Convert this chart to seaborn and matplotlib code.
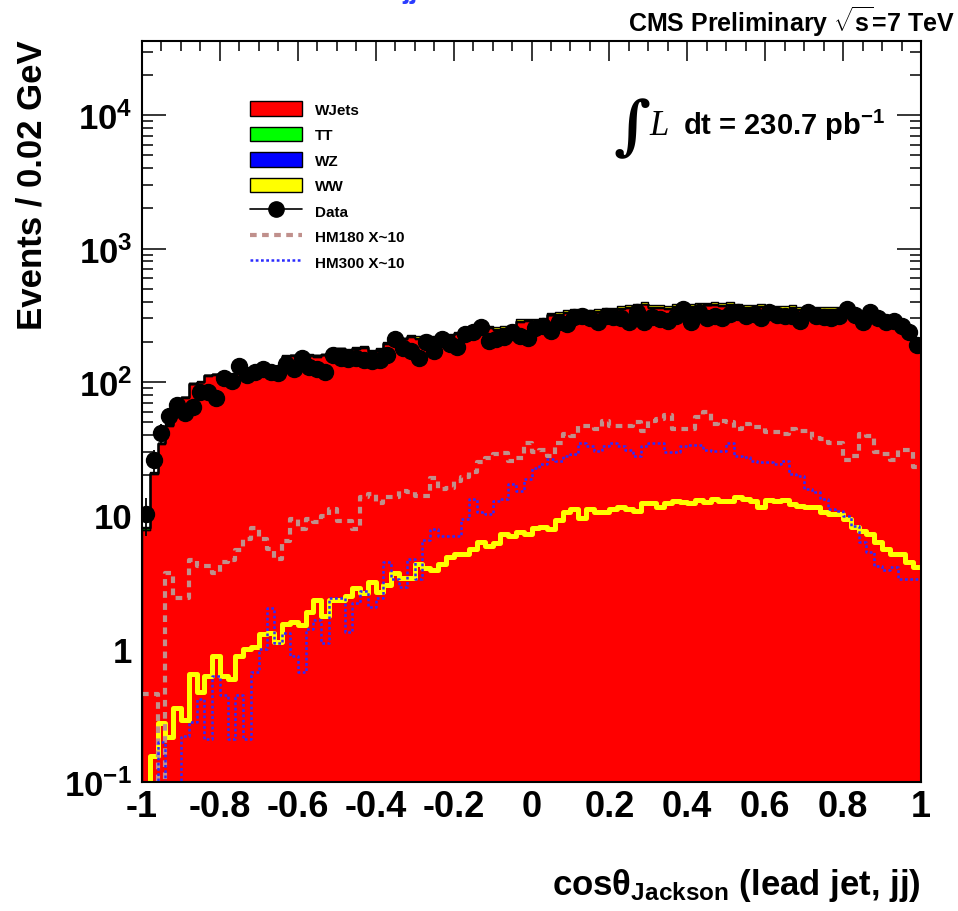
import numpy as np
import pandas as pd
import matplotlib
matplotlib.use("Agg")
import matplotlib.pyplot as plt
import seaborn as sns
from matplotlib.patches import Patch
from matplotlib.lines import Line2D
from matplotlib.ticker import MultipleLocator, LogLocator, FuncFormatter, NullFormatter

# 100 bins of 0.02 in cos(theta_Jackson)
edges = np.linspace(-1.0, 1.0, 101)
centers = edges[:-1] + 0.01
bin_list = edges.tolist()

wjets = [7.8, 20.4, 34, 46.8, 71.5, 75.5, 96, 99, 111, 113,
         104, 105, 116, 117, 125, 128, 126, 129, 154, 156,
         153, 157, 155, 158, 173, 175, 171, 176, 179, 166,
         172, 193, 210, 208, 217, 211, 217, 213, 222, 220,
         229, 227, 230, 250, 253, 246, 250, 255, 283, 286,
         281, 286, 316, 320, 328, 333, 335, 330, 337, 342,
         344, 351, 361, 366, 381, 358, 361, 355, 362, 360,
         365, 371, 375, 377, 370, 376, 364, 359, 358, 366,
         355, 352, 350, 358, 349, 353, 351, 347, 350, 348,
         338, 334, 320, 311, 302, 288, 269, 245, 223, 188]

tt = [0.2, 0.4, 0.6, 0.8, 0.9, 1.0, 1.1, 1.2, 1.3, 1.2,
      1.4, 1.5, 1.4, 1.6, 1.7, 1.6, 1.8, 1.9, 1.8, 2.0,
      2.1, 2.0, 2.2, 2.3, 2.2, 2.4, 2.5, 2.4, 2.6, 2.5,
      2.7, 2.8, 2.7, 2.9, 3.0, 2.9, 3.1, 3.0, 3.2, 3.3,
      3.2, 3.4, 3.3, 3.5, 3.4, 3.6, 3.5, 3.7, 3.6, 3.8,
      3.7, 3.9, 3.8, 4.0, 3.9, 4.0, 4.1, 4.0, 4.2, 4.1,
      4.2, 4.3, 4.2, 4.3, 4.4, 4.3, 4.4, 4.3, 4.4, 4.3,
      4.2, 4.3, 4.2, 4.1, 4.2, 4.1, 4.0, 4.1, 3.9, 4.0,
      3.8, 3.9, 3.7, 3.6, 3.7, 3.5, 3.4, 3.3, 3.2, 3.1,
      3.0, 2.8, 2.7, 2.5, 2.3, 2.1, 1.9, 1.7, 1.5, 1.2]

wz = [0.05, 0.1, 0.15, 0.2, 0.2, 0.25, 0.3, 0.3, 0.35, 0.35,
      0.4, 0.4, 0.45, 0.45, 0.5, 0.5, 0.55, 0.55, 0.6, 0.6,
      0.65, 0.65, 0.7, 0.7, 0.75, 0.75, 0.8, 0.8, 0.85, 0.85,
      0.9, 0.9, 0.95, 0.95, 1.0, 1.0, 1.05, 1.05, 1.1, 1.1,
      1.15, 1.15, 1.2, 1.2, 1.25, 1.25, 1.3, 1.3, 1.3, 1.35,
      1.35, 1.35, 1.4, 1.4, 1.4, 1.4, 1.45, 1.45, 1.45, 1.45,
      1.5, 1.5, 1.5, 1.5, 1.5, 1.5, 1.5, 1.5, 1.5, 1.5,
      1.45, 1.45, 1.45, 1.4, 1.4, 1.4, 1.35, 1.35, 1.3, 1.3,
      1.25, 1.25, 1.2, 1.15, 1.1, 1.05, 1.0, 0.95, 0.9, 0.85,
      0.8, 0.75, 0.7, 0.65, 0.6, 0.55, 0.5, 0.45, 0.4, 0.35]

ww = [0.09, 0.157, 0.277, 0.218, 0.36, 0.29, 0.65, 0.47, 0.62, 0.88,
      0.62, 0.59, 0.88, 1.0, 1.03, 1.29, 1.3, 1.12, 1.53, 1.58,
      1.5, 1.88, 2.3, 1.76, 2.3, 2.3, 2.5, 2.85, 2.6, 3.15,
      2.67, 3.0, 3.7, 3.4, 3.4, 4.3, 4.0, 3.9, 4.3, 4.9,
      5.1, 5.1, 5.6, 6.3, 5.9, 6.2, 7.2, 7.0, 7.5, 7.2,
      8.0, 8.2, 7.9, 9.2, 10.6, 11.1, 9.6, 11.1, 10.6, 10.6,
      11.1, 11.5, 11.1, 10.8, 12.3, 12.4, 11.5, 12.4, 12.8, 12.6,
      12.3, 13.0, 12.6, 13.2, 12.8, 12.8, 13.7, 13.2, 12.8, 11.5,
      13.0, 12.8, 13.0, 12.1, 11.8, 11.5, 11.5, 10.6, 10.2, 10.2,
      9.4, 8.2, 7.6, 7.2, 6.3, 5.6, 5.1, 5.1, 4.5, 4.1]

data = [10.2, 26, 41.5, 55.6, 67.3, 58.6, 65, 84, 84, 76,
        107, 102, 132, 113, 119, 125, 119, 117, 136, 125,
        151, 130, 125, 119, 160, 151, 149, 151, 146, 144,
        146, 160, 210, 180, 171, 151, 200, 171, 210, 193,
        183, 229, 237, 259, 203, 210, 218, 237, 221, 214,
        254, 263, 241, 282, 272, 307, 313, 302, 282, 313,
        307, 302, 282, 335, 282, 307, 297, 287, 313, 353,
        282, 335, 302, 313, 302, 324, 335, 313, 324, 302,
        335, 318, 313, 313, 287, 335, 313, 307, 302, 313,
        353, 318, 282, 335, 302, 282, 287, 263, 237, 190]

hm180 = [0.46, 0.46, 0, 3.7, 2.4, 2.4, 4.6, 4.2, 4.2, 3.7,
         4.5, 4.6, 5.5, 6.6, 8.0, 6.6, 5.6, 4.7, 6.4, 9.4,
         7.9, 9.4, 8.9, 9.9, 11.1, 9.0, 9.0, 7.9, 13.7, 14.5,
         12.3, 13.7, 13.8, 15.1, 15, 14, 14, 19, 15.8, 16,
         18, 19.3, 21, 25, 27, 29, 29.5, 25.5, 27, 35,
         30, 31, 28, 35, 41, 39, 47, 47, 44.6, 51,
         47, 47, 47, 50, 43, 51, 53, 56, 44, 44,
         44, 55, 59, 48, 51, 50, 44, 48, 46, 46,
         42, 42, 41, 44, 43, 43, 38, 37, 35, 35,
         26, 28, 41, 39, 30, 29, 26, 31, 31, 23]

hm300 = [0, 0, 0.2, 0, 0, 0.22, 0.28, 0.42, 0.21, 0.62,
         0.45, 0.21, 0.45, 0.21, 0.67, 1.0, 2.0, 1.1, 1.3, 0.88,
         0.67, 1.4, 1.65, 1.1, 2.4, 2.4, 1.33, 2.2, 2.7, 2.05,
         2.4, 4.5, 3.3, 2.9, 4.7, 3.3, 6.5, 7.9, 7.0, 7.0,
         7.0, 9.4, 13.2, 10.6, 10.2, 12.8, 13.2, 17.2, 15.2, 18.7,
         22.5, 24.3, 26.5, 25.5, 28, 29, 35, 33, 30.5, 33,
         34.6, 33, 31, 28, 33, 34.6, 35, 30, 30, 33,
         33.5, 33.5, 31, 30.5, 30.5, 34.6, 28, 27.5, 25.5, 25,
         25, 24.3, 25.5, 20.3, 19.6, 15.8, 15, 13.2, 11.1, 10.8,
         9.9, 8.3, 6.3, 5.3, 4.2, 3.9, 4.1, 3.3, 3.3, 3.3]

procs = ["WJets", "TT", "WZ", "WW"]
colors = {"WJets": "#ff0000", "TT": "#00ff00", "WZ": "#0000ff", "WW": "#ffff00"}
hm180_color = "#c0908c"
hm300_color = "#2b2bff"

sns.set_theme(style="ticks")
plt.rcParams["font.family"] = ["Liberation Sans", "DejaVu Sans"]
plt.rcParams["font.weight"] = "bold"
plt.rcParams["text.color"] = "black"
plt.rcParams["axes.labelcolor"] = "black"
plt.rcParams["xtick.color"] = "black"
plt.rcParams["ytick.color"] = "black"
plt.rcParams["mathtext.fontset"] = "custom"
plt.rcParams["mathtext.rm"] = "Liberation Sans:bold"
plt.rcParams["mathtext.bf"] = "Liberation Sans:bold"
plt.rcParams["mathtext.it"] = "Liberation Sans:italic:bold"
plt.rcParams["axes.unicode_minus"] = False

fig = plt.figure(figsize=(9.58, 9.12), dpi=100)
ax = fig.add_axes([142 / 958, 1 - 783 / 912, 779 / 958, 741 / 912])

mc = pd.DataFrame({
    "x": np.tile(centers, 4),
    "w": np.concatenate([wjets, tt, wz, ww]),
    "proc": np.repeat(procs, len(centers)),
})

# stacked backgrounds, WJets at the bottom
sns.histplot(data=mc, x="x", weights="w", hue="proc", hue_order=procs[::-1],
             multiple="stack", bins=bin_list, element="step", palette=colors,
             alpha=1, edgecolor="black", linewidth=1.0, legend=False, ax=ax)

sns.histplot(x=centers, weights=ww, bins=bin_list, element="step", fill=False,
             color="#ffff00", linewidth=3.6, ax=ax)
sns.histplot(x=centers, weights=hm180, bins=bin_list, element="step", fill=False,
             color=hm180_color, linewidth=3.0, linestyle=(0, (1.6, 1.3)), ax=ax)
sns.histplot(x=centers, weights=hm300, bins=bin_list, element="step", fill=False,
             color=hm300_color, linewidth=1.8, linestyle=(0, (1.1, 1.0)), ax=ax)

ax.errorbar(centers, data, yerr=np.sqrt(data), fmt="o", color="black",
            ms=11.5, elinewidth=1.3, capsize=0, zorder=6)

ax.set_yscale("log")
ax.set_xlim(-1, 1)
ax.set_ylim(0.1, 3.6e4)
ax.set_xlabel("")
ax.set_ylabel("")


def xfmt(v, pos):
    v = round(v, 2)
    if v == 0:
        return "0"
    return f"{v:g}"


def yfmt(v, pos):
    e = int(round(np.log10(v)))
    if e == 0:
        return "1"
    if e == 1:
        return "10"
    return "10$^{%d}$" % e


ax.xaxis.set_major_locator(MultipleLocator(0.2))
ax.xaxis.set_minor_locator(MultipleLocator(0.05))
ax.xaxis.set_major_formatter(FuncFormatter(xfmt))
ax.yaxis.set_major_locator(LogLocator(base=10, numticks=12))
ax.yaxis.set_minor_locator(LogLocator(base=10, subs=np.arange(2, 10), numticks=12))
ax.yaxis.set_major_formatter(FuncFormatter(yfmt))
ax.yaxis.set_minor_formatter(NullFormatter())

ax.tick_params(which="both", direction="in", top=True, right=True, width=1.1,
               colors="black")
ax.tick_params(axis="x", which="major", length=14.5, pad=5, labelsize=26)
ax.tick_params(axis="x", which="minor", length=7.5)
ax.tick_params(axis="y", which="major", length=17, pad=7, labelsize=25)
ax.tick_params(axis="y", which="minor", length=8)
for sp in ax.spines.values():
    sp.set_linewidth(1.5)
    sp.set_color("black")
    sp.set_visible(True)

# legend in ROOT style
handles = [Patch(facecolor=colors[p], edgecolor="black", linewidth=1.0) for p in procs]
handles += [
    Line2D([], [], color="black", marker="o", ms=11, lw=1.2),
    Line2D([], [], color=hm180_color, lw=3.0, linestyle=(0, (1.6, 1.3))),
    Line2D([], [], color=hm300_color, lw=1.8, linestyle=(0, (1.1, 1.0))),
]
labels = procs + ["Data", "HM180 X~10", "HM300 X~10"]
ax.legend(handles, labels, loc="upper left", bbox_to_anchor=(0.1386, 0.9186),
          frameon=False, fontsize=11, handlelength=3.4, handleheight=1.1,
          labelspacing=0.65, handletextpad=0.85, borderpad=0, borderaxespad=0)

# texts
fig.text(0.9969, 0.9649, r"CMS Preliminary $\sqrt{\mathrm{s}}$=7 TeV", ha="right",
         va="baseline", fontsize=18)
fig.text(0.4196, 1.0027, "jj", color="#2a3cff", fontsize=20, fontweight="bold",
         ha="left", va="baseline")
fig.text(0.6597, 0.8580, "\u222b", fontsize=46, family="DejaVu Serif",
         fontweight="bold", ha="center", va="center")
fig.text(0.6775, 0.852, "L", fontsize=25, family="Liberation Serif",
         fontstyle="italic", fontweight="normal", ha="left", va="baseline")
fig.text(0.713, 0.852, r"dt = 230.7 pb$^{-1}$", fontsize=21, ha="left",
         va="baseline")
fig.text(0.0334, 0.956, "Events / 0.02 GeV", rotation=90, fontsize=25,
         ha="center", va="top")
fig.text(0.9614, 0.0186, r"cos$\mathrm{\theta}_{\mathrm{Jackson}}$ (lead jet, jj)",
         fontsize=25, ha="right", va="baseline")

fig.savefig("out.png", dpi=100)
